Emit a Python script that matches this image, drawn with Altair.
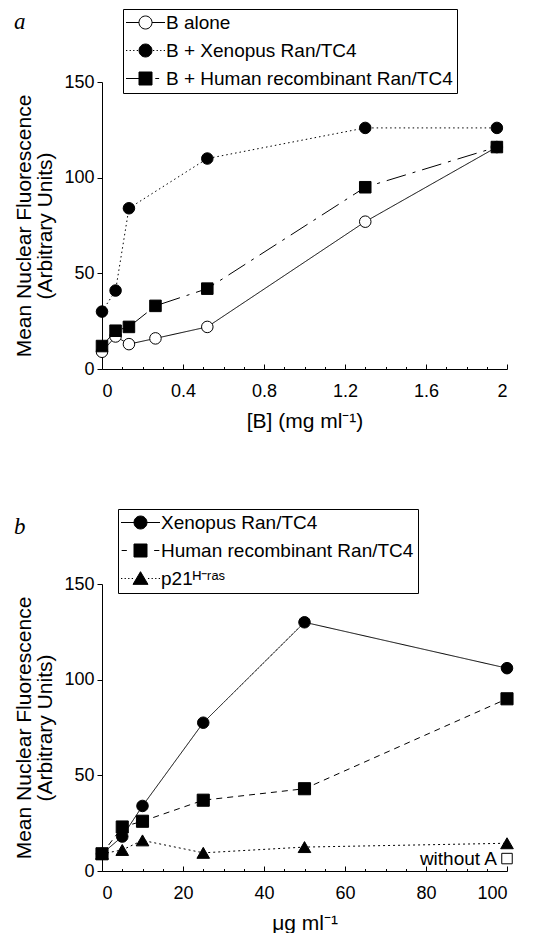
import altair as alt
import pandas as pd

FONT = "Liberation Sans"

# ---------------- panel a data ----------------
a_series = ["B alone", "B + Xenopus Ran/TC4", "B + Human recombinant Ran/TC4"]
a_alone_x = [0, 0.067, 0.133, 0.264, 0.52, 1.30, 1.95]
a_alone_y = [9, 17, 13, 16, 22, 77, 116]
a_xen_x = [0, 0.067, 0.133, 0.52, 1.30, 1.95]
a_xen_y = [30, 41, 84, 110, 126, 126]
a_hum_x = [0, 0.067, 0.133, 0.264, 0.52, 1.30, 1.95]
a_hum_y = [12, 20, 22, 33, 42, 95, 116]
a_x_ticks = [0, 0.4, 0.8, 1.2, 1.6, 2]
a_x_minor = [0.1, 0.2, 0.3, 0.5, 0.6, 0.7, 0.9, 1.0, 1.1, 1.3, 1.4, 1.5, 1.7, 1.8, 1.9]

# ---------------- panel b data ----------------
b_series = ["Xenopus Ran/TC4", "Human recombinant Ran/TC4", "p21\u1d34\u207b\u02b3\u1d43\u02e2"]
b_x = [0, 5, 10, 25, 50, 100]
b_xen_y = [9, 18, 34, 77.5, 130, 106]
b_hum_y = [9, 23, 26, 37, 43, 90]
b_p21_y = [9, 11, 16, 9.5, 12.5, 14.5]
b_withoutA_x = [100]
b_withoutA_y = [6.5]
b_withoutA_label = ["without A"]
b_x_ticks = [0, 20, 40, 60, 80, 100]
b_x_minor = [5, 10, 15, 25, 30, 35, 45, 50, 55, 65, 70, 75, 85, 90, 95]

y_ticks = [0, 50, 100, 150]

# legend symbol paths (marker + line style)
CIRCLE = "M-1,0A1,1,0,1,1,1,0A1,1,0,1,1,-1,0Z"
SQUARE = "M-1,-1H1V1H-1Z"
TRI = "M0,-1.05L1.15,0.9H-1.15Z"
SOLID = "M-3,0H-1M1,0H3"
DOTS = ("M-3,0H-2.8M-2.45,0H-2.25M-1.9,0H-1.7M-1.35,0H-1.15"
        "M1.15,0H1.35M1.7,0H1.9M2.25,0H2.45M2.8,0H3")
DASHDOT = "M-3,0H-1M1.5,0H2.1"
DASHES = "M-2.9,0H-2.1M2.1,0H2.9"


def long_df(xs_list, ys_list, names):
    rows = []
    for xs, ys, n in zip(xs_list, ys_list, names):
        for xv, yv in zip(xs, ys):
            rows.append({"x": xv, "y": yv, "s": n})
    return pd.DataFrame(rows)


def panel(df, order, dash_range, shape_range, size_range, fill_range, leg_paths,
          xdomain, xmajor, xminor, xtitle, xfmt, letter, toff, lx, ly, extra=None):
    xscale = alt.Scale(domain=xdomain, nice=False, zero=False)
    yscale = alt.Scale(domain=[0, 150], nice=False)
    yax = alt.Axis(values=y_ticks, title=["Mean Nuclear Fluorescence", "(Arbitrary Units)"],
                   titleLineHeight=21, titlePadding=8, tickSize=5, labelPadding=3)
    y_enc = alt.Y("y:Q", scale=yscale, axis=yax)
    x_major = alt.X("x:Q", scale=xscale,
                    axis=alt.Axis(values=xmajor, format=xfmt, title=xtitle, orient="bottom",
                                  tickSize=alt.ExprRef(expr="-5"), labelPadding=18,
                                  titlePadding=10))
    x_minor = alt.X("x:Q", scale=xscale,
                    axis=alt.Axis(values=xminor, labels=False, domain=False, title=None,
                                  orient="bottom", tickSize=alt.ExprRef(expr="-2.5")))
    x_none = alt.X("x:Q", scale=xscale, axis=None)

    lines = alt.Chart(df).mark_line(color="black", strokeWidth=1).encode(
        x=x_minor, y=y_enc,
        strokeDash=alt.StrokeDash("s:N", scale=alt.Scale(domain=order, range=dash_range), legend=None),
    )
    pts = alt.Chart(df).mark_point(filled=True, stroke="black", strokeWidth=1, opacity=1).encode(
        x=x_major, y=y_enc,
        shape=alt.Shape("s:N", scale=alt.Scale(domain=order, range=shape_range), legend=None),
        fill=alt.Fill("s:N", scale=alt.Scale(domain=order, range=fill_range), legend=None),
        size=alt.Size("s:N", scale=alt.Scale(domain=order, range=size_range), legend=None),
    )
    leg = alt.Legend(title=None, orient="none", legendX=lx, legendY=ly,
                     labelFont=FONT, labelFontSize=19, labelColor="black", labelLimit=600,
                     labelExpr="datum.label + '\u2002\u2002'",
                     symbolSize=169, symbolStrokeColor="black", symbolStrokeWidth=1,
                     symbolOpacity=1, strokeColor="black", fillColor="white",
                     padding=4, rowPadding=8, symbolOffset=9, labelOffset=11)
    legl = alt.Chart(df).mark_point(filled=True, stroke="black", strokeWidth=1, opacity=0).encode(
        x=x_none, y=y_enc,
        shape=alt.Shape("s:N", scale=alt.Scale(domain=order, range=leg_paths), legend=leg),
        fill=alt.Fill("s:N", scale=alt.Scale(domain=order, range=fill_range), legend=leg),
        stroke=alt.Stroke("s:N", scale=alt.Scale(domain=order, range=["black", "black", "black"]),
                          legend=leg),
    )
    layers = [lines, pts, legl]
    if extra is not None:
        layers += extra(x_none, y_enc)
    ch = alt.layer(*layers).resolve_scale(
        shape="independent", fill="independent", size="independent", stroke="independent"
    ).resolve_axis(x="independent").properties(
        width=405, height=287,
        title=alt.TitleParams(text=letter, anchor="start", font="Liberation Serif",
                              fontStyle="italic", fontSize=23, fontWeight="normal",
                              color="black", frame="bounds", offset=toff),
    )
    return ch


df_a = long_df([a_alone_x, a_xen_x, a_hum_x], [a_alone_y, a_xen_y, a_hum_y], a_series)
pa = panel(df_a, a_series,
           dash_range=[[1, 0], [1.5, 3], [20, 7, 3, 7]],
           shape_range=["circle", "circle", "square"],
           size_range=[133, 133, 160],
           fill_range=["white", "black", "black"],
           leg_paths=[SOLID + CIRCLE, DOTS + CIRCLE, DASHDOT + SQUARE],
           xdomain=[0, 2], xmajor=a_x_ticks, xminor=a_x_minor,
           xtitle="[B] (mg ml\u207b\u00b9)", xfmt=".1~f", letter="a", toff=-25, lx=21, ly=-73)

df_b = long_df([b_x, b_x, b_x], [b_xen_y, b_hum_y, b_p21_y], b_series)
df_wa = pd.DataFrame({"x": b_withoutA_x, "y": b_withoutA_y, "t": b_withoutA_label})


def extra_b(x_none, y_enc):
    sq = alt.Chart(df_wa).mark_point(shape="square", filled=False, stroke="black",
                                     strokeWidth=1, size=110, opacity=1).encode(x=x_none, y=y_enc)
    tx = alt.Chart(df_wa).mark_text(align="right", baseline="middle", dx=-10, font=FONT,
                                    fontSize=19, color="black").encode(x=x_none, y=y_enc, text="t:N")
    return [sq, tx]


pb = panel(df_b, b_series,
           dash_range=[[1, 0], [6, 5], [2, 3]],
           shape_range=["circle", "square", "triangle-up"],
           size_range=[133, 160, 120],
           fill_range=["black", "black", "black"],
           leg_paths=[SOLID + CIRCLE, DASHES + SQUARE, DOTS + TRI],
           xdomain=[0, 100], xmajor=b_x_ticks, xminor=b_x_minor,
           xtitle="\u03bcg ml\u207b\u00b9", xfmt="d", letter="b", toff=-30, lx=16, ly=-75,
           extra=extra_b)

chart = alt.vconcat(pa, pb, spacing=77).resolve_scale(
    strokeDash="independent", shape="independent", fill="independent",
    size="independent", stroke="independent",
).properties(
    padding={"left": 5, "top": 0, "right": 0, "bottom": 0}
).configure_view(stroke=None).configure_axis(
    grid=False, domainColor="black", tickColor="black", labelColor="black", titleColor="black",
    labelFont=FONT, titleFont=FONT, labelFontSize=18, titleFontSize=21, titleFontWeight="normal",
    domainWidth=1, tickWidth=1,
)

chart.save("out.html", embed_options={"renderer": "svg", "actions": False})
